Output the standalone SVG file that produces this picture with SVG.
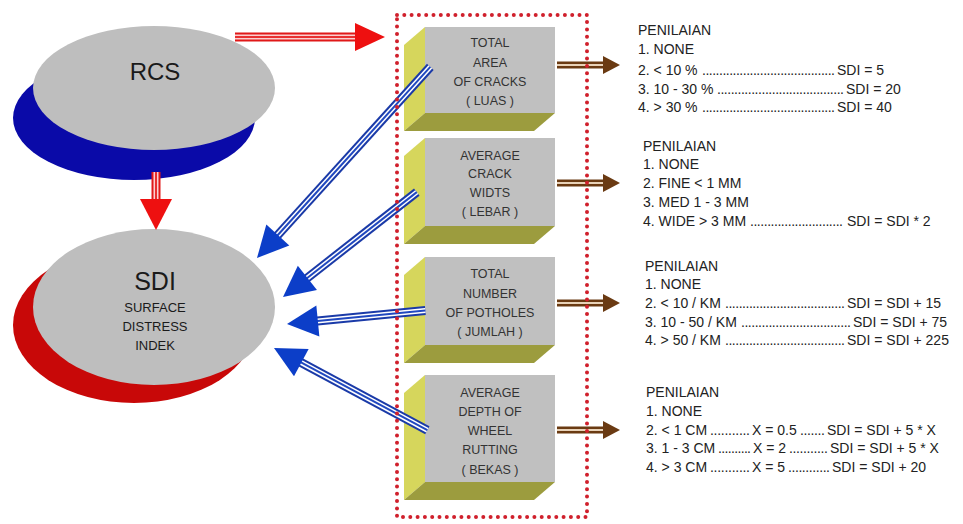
<svg xmlns="http://www.w3.org/2000/svg" width="963" height="524" viewBox="0 0 963 524">
<style>
.el{fill:#bebebe}
.t{font-family:"Liberation Sans",Arial,sans-serif;fill:#1a1a1a}
.bx{font-family:"Liberation Sans",Arial,sans-serif;font-size:12.5px;fill:#333;text-anchor:middle}
.r{font-family:"Liberation Sans",Arial,sans-serif;font-size:14px;fill:#222}
.face{fill:#c0c0c0}
.side{fill:#d6d65c}
.bot{fill:#9c9c3e}
.bo{stroke:#1a3aa8;stroke-width:9;fill:none}
.bw{stroke:#ffffff;stroke-width:5;fill:none}
.bi{stroke:#2048c0;stroke-width:2;fill:none}
.bh{fill:#0c3ec8}
.ro{stroke:#e01818;stroke-width:9;fill:none}
.rw{stroke:#fbd0d0;stroke-width:5;fill:none}
.ri{stroke:#e83030;stroke-width:2;fill:none}
.rh{fill:#ee1010}
.wo{stroke:#6a3a12;stroke-width:7;fill:none}
.wi{stroke:#e8d2b8;stroke-width:2;fill:none}
.wh{fill:#6a3a12}
</style>
<rect width="963" height="524" fill="#ffffff"/>

<g id="rcs">
<ellipse cx="134" cy="118" rx="121" ry="62" fill="#0a0aa8"/>
<ellipse class="el" cx="154" cy="88" rx="121" ry="62"/>
<text class="t" x="155" y="80" font-size="24" text-anchor="middle">RCS</text>
</g>

<g id="sdi">
<ellipse cx="134" cy="325" rx="121" ry="78" fill="#c80808"/>
<ellipse class="el" cx="154" cy="307" rx="121" ry="78"/>
<text class="t" x="155" y="290" font-size="25" text-anchor="middle">SDI</text>
<text class="t" x="155" y="312" font-size="13" text-anchor="middle">SURFACE</text>
<text class="t" x="155" y="331" font-size="13" text-anchor="middle">DISTRESS</text>
<text class="t" x="155" y="350" font-size="13" text-anchor="middle">INDEK</text>
</g>

<g id="box1">
<polygon class="side" points="425,27 404,45 404,131 425,113"/>
<polygon class="bot" points="425,113 555,113 534,131 404,131"/>
<rect class="face" x="425" y="27" width="130" height="86"/>
<text class="bx" x="490" y="47">TOTAL</text>
<text class="bx" x="490" y="67">AREA</text>
<text class="bx" x="490" y="86">OF CRACKS</text>
<text class="bx" x="490" y="105">( LUAS )</text>
</g>

<g id="box2">
<polygon class="side" points="425,138 404,156 404,244 425,226"/>
<polygon class="bot" points="425,226 555,226 534,244 404,244"/>
<rect class="face" x="425" y="138" width="130" height="88"/>
<text class="bx" x="490" y="160">AVERAGE</text>
<text class="bx" x="490" y="178">CRACK</text>
<text class="bx" x="490" y="197">WIDTS</text>
<text class="bx" x="490" y="216">( LEBAR )</text>
</g>

<g id="box3">
<polygon class="side" points="425,257 404,275 404,363 425,345"/>
<polygon class="bot" points="425,345 555,345 534,363 404,363"/>
<rect class="face" x="425" y="257" width="130" height="88"/>
<text class="bx" x="490" y="278">TOTAL</text>
<text class="bx" x="490" y="298">NUMBER</text>
<text class="bx" x="490" y="317">OF POTHOLES</text>
<text class="bx" x="490" y="336">( JUMLAH )</text>
</g>

<g id="box4">
<polygon class="side" points="425,375 404,393 404,500 425,482"/>
<polygon class="bot" points="425,482 555,482 534,500 404,500"/>
<rect class="face" x="425" y="375" width="130" height="107"/>
<text class="bx" x="490" y="397">AVERAGE</text>
<text class="bx" x="490" y="416">DEPTH OF</text>
<text class="bx" x="490" y="435">WHEEL</text>
<text class="bx" x="490" y="454">RUTTING</text>
<text class="bx" x="490" y="474">( BEKAS )</text>
</g>

<g id="connectors">
<path class="ro" d="M235,37 H357"/><path class="rw" d="M235,37 H357"/><path class="ri" d="M235,37 H357"/>
<polygon class="rh" points="355,23 385,37 355,51"/>
<path class="ro" d="M156,172 V201"/><path class="rw" d="M156,172 V201"/><path class="ri" d="M156,172 V201"/>
<polygon class="rh" points="140,199 172,199 156,230"/>

<g transform="translate(257,258) rotate(132.2)">
<path class="bo" d="M-258,0 H-28"/><path class="bw" d="M-258,0 H-28"/><path class="bi" d="M-258,0 H-28"/>
<polygon class="bh" points="0,0 -31,-15.5 -31,15.5"/>
</g>
<g transform="translate(283,297) rotate(141.9)">
<path class="bo" d="M-170,0 H-28"/><path class="bw" d="M-170,0 H-28"/><path class="bi" d="M-170,0 H-28"/>
<polygon class="bh" points="0,0 -31,-15.5 -31,15.5"/>
</g>
<g transform="translate(287,324) rotate(174.4)">
<path class="bo" d="M-139,0 H-28"/><path class="bw" d="M-139,0 H-28"/><path class="bi" d="M-139,0 H-28"/>
<polygon class="bh" points="0,0 -31,-15.5 -31,15.5"/>
</g>
<g transform="translate(274,348) rotate(208.2)">
<path class="bo" d="M-174,0 H-28"/><path class="bw" d="M-174,0 H-28"/><path class="bi" d="M-174,0 H-28"/>
<polygon class="bh" points="0,0 -31,-15.5 -31,15.5"/>
</g>

<path class="wo" d="M557,65 H606"/><path class="wi" d="M557,65 H606"/>
<polygon class="wh" points="603,56 620,65 603,74"/>
<path class="wo" d="M557,183 H606"/><path class="wi" d="M557,183 H606"/>
<polygon class="wh" points="603,174 620,183 603,192"/>
<path class="wo" d="M557,303 H606"/><path class="wi" d="M557,303 H606"/>
<polygon class="wh" points="603,294 620,303 603,312"/>
<path class="wo" d="M557,430 H606"/><path class="wi" d="M557,430 H606"/>
<polygon class="wh" points="603,421 620,430 603,439"/>
</g>

<g id="group-frame">
<rect x="397" y="15" width="190" height="502" fill="none" stroke="#d0202c" stroke-width="4" stroke-linecap="round" stroke-dasharray="0 7.3"/>
</g>

<g id="criteria1">
<text class="r" x="638" y="35">PENILAIAN</text>
<text class="r" x="638" y="54">1. NONE</text>
<text class="r" x="638" y="75">2. &lt; 10 %</text>
<text class="r" x="702" y="75" textLength="133" lengthAdjust="spacing">.......................................</text>
<text class="r" x="837" y="75">SDI = 5</text>
<text class="r" x="638" y="94">3. 10 - 30 %</text>
<text class="r" x="717" y="94" textLength="127" lengthAdjust="spacing">.....................................</text>
<text class="r" x="846" y="94">SDI = 20</text>
<text class="r" x="638" y="112">4. &gt; 30 %</text>
<text class="r" x="702" y="112" textLength="133" lengthAdjust="spacing">.......................................</text>
<text class="r" x="837" y="112">SDI = 40</text>
</g>

<g id="criteria2">
<text class="r" x="643" y="151">PENILAIAN</text>
<text class="r" x="643" y="169">1. NONE</text>
<text class="r" x="643" y="188">2. FINE &lt; 1 MM</text>
<text class="r" x="643" y="207">3. MED 1 - 3 MM</text>
<text class="r" x="643" y="226">4. WIDE &gt; 3 MM</text>
<text class="r" x="750" y="226" textLength="93" lengthAdjust="spacing">...........................</text>
<text class="r" x="847" y="226">SDI = SDI * 2</text>
</g>

<g id="criteria3">
<text class="r" x="645" y="271">PENILAIAN</text>
<text class="r" x="645" y="289">1. NONE</text>
<text class="r" x="645" y="308">2. &lt; 10 / KM</text>
<text class="r" x="725" y="308" textLength="120" lengthAdjust="spacing">...................................</text>
<text class="r" x="847" y="308">SDI = SDI + 15</text>
<text class="r" x="645" y="327">3. 10 - 50 / KM</text>
<text class="r" x="741" y="327" textLength="110" lengthAdjust="spacing">................................</text>
<text class="r" x="853" y="327">SDI = SDI + 75</text>
<text class="r" x="645" y="345">4. &gt; 50 / KM</text>
<text class="r" x="725" y="345" textLength="120" lengthAdjust="spacing">...................................</text>
<text class="r" x="847" y="345">SDI = SDI + 225</text>
</g>

<g id="criteria4">
<text class="r" x="646" y="397">PENILAIAN</text>
<text class="r" x="646" y="416">1. NONE</text>
<text class="r" x="646" y="435">2. &lt; 1 CM</text>
<text class="r" x="710" y="435" textLength="40" lengthAdjust="spacing">...........</text>
<text class="r" x="752" y="435">X = 0.5</text>
<text class="r" x="800" y="435" textLength="25" lengthAdjust="spacing">.......</text>
<text class="r" x="827" y="435">SDI = SDI + 5 * X</text>
<text class="r" x="646" y="453">3. 1 - 3 CM</text>
<text class="r" x="718" y="453" textLength="33" lengthAdjust="spacing">..........</text>
<text class="r" x="753" y="453">X = 2</text>
<text class="r" x="789" y="453" textLength="39" lengthAdjust="spacing">...........</text>
<text class="r" x="830" y="453">SDI = SDI + 5 * X</text>
<text class="r" x="646" y="472">4. &gt; 3 CM</text>
<text class="r" x="710" y="472" textLength="40" lengthAdjust="spacing">...........</text>
<text class="r" x="752" y="472">X = 5</text>
<text class="r" x="788" y="472" textLength="42" lengthAdjust="spacing">............</text>
<text class="r" x="832" y="472">SDI = SDI + 20</text>
</g>
</svg>
